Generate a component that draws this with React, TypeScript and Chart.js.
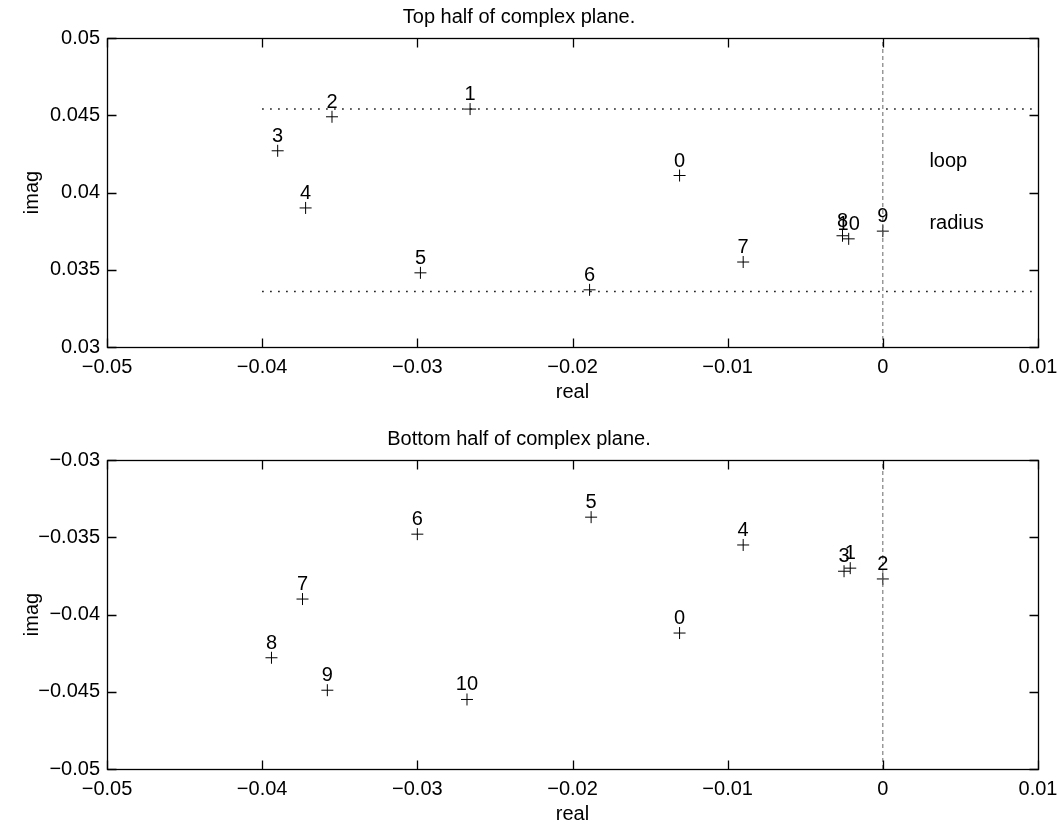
import React, { useEffect, useRef } from 'react';
import { Chart, registerables } from 'chart.js';

Chart.register(...registerables);

const FONT_FAMILY = "'Liberation Sans', Arial, Helvetica, sans-serif";

// Axis ticks
const xTickValues = [-0.05, -0.04, -0.03, -0.02, -0.01, 0, 0.01];
const xTickLabels = ['−0.05', '−0.04', '−0.03', '−0.02', '−0.01', '0', '0.01'];
const topYTickValues = [0.03, 0.035, 0.04, 0.045, 0.05];
const topYTickLabels = ['0.03', '0.035', '0.04', '0.045', '0.05'];
const bottomYTickValues = [-0.05, -0.045, -0.04, -0.035, -0.03];
const bottomYTickLabels = ['−0.05', '−0.045', '−0.04', '−0.035', '−0.03'];

// Top half of complex plane: point labels, real and imaginary parts
const topLabels = ['0', '1', '2', '3', '4', '5', '6', '7', '8', '9', '10'];
const topReal = [-0.0131, -0.0266, -0.0355, -0.039, -0.0372, -0.0298, -0.0189, -0.009, -0.0026, 0.0, -0.0022];
const topImag = [0.0411, 0.0454, 0.0449, 0.0427, 0.039, 0.0348, 0.0337, 0.0355, 0.0372, 0.0375, 0.037];

// Bottom half of complex plane
const bottomLabels = ['0', '1', '2', '3', '4', '5', '6', '7', '8', '9', '10'];
const bottomReal = [-0.0131, -0.0021, 0.0, -0.0025, -0.009, -0.0188, -0.03, -0.0374, -0.0394, -0.0358, -0.0268];
const bottomImag = [-0.0412, -0.037, -0.0377, -0.0372, -0.0355, -0.0337, -0.0348, -0.039, -0.0428, -0.0449, -0.0455];

// Loop radius reference lines (top panel)
const radiusLineX = [-0.04, 0.01];
const radiusOuterY = [0.0454, 0.0454];
const radiusInnerY = [0.0336, 0.0336];

// Imaginary axis (real = 0)
const imagAxisX = [0, 0];
const topImagAxisY = [0.03, 0.05];
const bottomImagAxisY = [-0.05, -0.03];

// Text notes (top panel)
const topNotes = ['loop', 'radius'];
const topNotesX = [0.003, 0.003];
const topNotesY = [0.042, 0.038];

type PanelSpec = {
  title: string;
  yMin: number;
  yMax: number;
  yTickValues: number[];
  yTickLabels: string[];
  real: number[];
  imag: number[];
  labels: string[];
  lines: { x: number[]; y: number[]; kind: 'dot' | 'dash' }[];
  notes: { text: string[]; x: number[]; y: number[] };
  height: number;
  xAxisHeight: number;
  xTitleBottom: number;
};

const frameAndLabelsPlugin = {
  id: 'frameAndLabels',
  afterDatasetsDraw(chart: any) {
    const ctx = chart.ctx as CanvasRenderingContext2D;
    const area = chart.chartArea;
    const xs = chart.scales.x;
    const ys = chart.scales.y;
    const L = Math.round(area.left) + 0.5;
    const R = Math.round(area.right) + 0.5;
    const T = Math.round(area.top) + 0.5;
    const B = Math.round(area.bottom) + 0.5;
    ctx.save();
    ctx.strokeStyle = '#000';
    ctx.lineWidth = 1.3;
    ctx.setLineDash([]);
    ctx.strokeRect(L, T, R - L, B - T);
    const tl = 9;
    ctx.beginPath();
    xs.ticks.forEach((t: any) => {
      const px = Math.round(xs.getPixelForValue(t.value)) + 0.5;
      ctx.moveTo(px, B);
      ctx.lineTo(px, B - tl);
      ctx.moveTo(px, T);
      ctx.lineTo(px, T + tl);
    });
    ys.ticks.forEach((t: any) => {
      const py = Math.round(ys.getPixelForValue(t.value)) + 0.5;
      ctx.moveTo(L, py);
      ctx.lineTo(L + tl, py);
      ctx.moveTo(R, py);
      ctx.lineTo(R - tl, py);
    });
    ctx.stroke();

    // point labels
    ctx.fillStyle = '#000';
    ctx.font = `20px ${FONT_FAMILY}`;
    ctx.textAlign = 'center';
    ctx.textBaseline = 'middle';
    chart.data.datasets.forEach((ds: any, i: number) => {
      if (!ds.pointLabels) return;
      const meta = chart.getDatasetMeta(i);
      meta.data.forEach((el: any, j: number) => {
        ctx.fillText(ds.pointLabels[j], el.x, el.y - 14.5);
      });
    });

    // notes
    const notes = chart.options.plugins.frameAndLabels?.notes;
    if (notes) {
      ctx.textAlign = 'left';
      notes.text.forEach((txt: string, k: number) => {
        ctx.fillText(txt, xs.getPixelForValue(notes.x[k]), ys.getPixelForValue(notes.y[k]));
      });
    }
    ctx.restore();
  },
};

function Panel({ spec }: { spec: PanelSpec }) {
  const ref = useRef<HTMLCanvasElement | null>(null);
  useEffect(() => {
    if (!ref.current) return;
    const font = { family: FONT_FAMILY, size: 20, weight: 'normal' as const };
    const datasets: any[] = spec.lines.map((ln) => ({
      data: ln.x.map((x, i) => ({ x, y: ln.y[i] })),
      showLine: true,
      pointRadius: 0,
      borderColor: ln.kind === 'dot' ? '#000' : '#666',
      borderWidth: ln.kind === 'dot' ? 1.5 : 1,
      borderDash: ln.kind === 'dot' ? [1.5, 6.5] : [4, 3],
      fill: false,
    }));
    datasets.push({
      data: spec.real.map((x, i) => ({ x, y: spec.imag[i] })),
      pointLabels: spec.labels,
      showLine: false,
      pointStyle: 'cross',
      pointRadius: 6,
      pointBorderColor: '#000',
      pointBackgroundColor: '#000',
      pointBorderWidth: 1,
    });
    const chart = new Chart(ref.current, {
      type: 'scatter',
      data: { datasets },
      plugins: [frameAndLabelsPlugin],
      options: {
        animation: false,
        responsive: false,
        events: [],
        layout: { padding: { left: 0, right: 20, top: 0, bottom: 0 } },
        plugins: {
          legend: { display: false },
          tooltip: { enabled: false },
          title: {
            display: true,
            text: spec.title,
            color: '#000',
            font,
            padding: { top: 5, bottom: 9 },
          },
          frameAndLabels: { notes: spec.notes },
        } as any,
        scales: {
          x: {
            type: 'linear',
            min: -0.05,
            max: 0.01,
            afterBuildTicks: (s: any) => {
              s.ticks = xTickValues.map((v) => ({ value: v }));
            },
            afterFit: (s: any) => {
              s.height = spec.xAxisHeight;
              s.paddingLeft = 0;
              s.paddingRight = 0;
            },
            ticks: {
              autoSkip: false,
              maxRotation: 0,
              padding: 8,
              color: '#000',
              font,
              callback: (_v: any, i: number) => xTickLabels[i],
            },
            grid: { display: false, drawTicks: false },
            border: { display: false },
            title: {
              display: true,
              text: 'real',
              color: '#000',
              font,
              padding: { top: 0, bottom: spec.xTitleBottom },
            },
          },
          y: {
            type: 'linear',
            min: spec.yMin,
            max: spec.yMax,
            afterBuildTicks: (s: any) => {
              s.ticks = spec.yTickValues.map((v) => ({ value: v }));
            },
            afterFit: (s: any) => {
              s.width = 107;
              s.paddingTop = 0;
              s.paddingBottom = 0;
            },
            ticks: {
              autoSkip: false,
              padding: 7,
              color: '#000',
              font,
              callback: (_v: any, i: number) => spec.yTickLabels[i],
            },
            grid: { display: false, drawTicks: false },
            border: { display: false },
            title: {
              display: true,
              text: 'imag',
              color: '#000',
              font,
              padding: { top: 20, bottom: 0 },
            },
          },
        },
      } as any,
    });
    return () => chart.destroy();
  }, [spec]);
  return <canvas ref={ref} width={1058} height={spec.height} style={{ display: 'block', width: 1058, height: spec.height }} />;
}

const topSpec: PanelSpec = {
  title: 'Top half of complex plane.',
  yMin: 0.03,
  yMax: 0.05,
  yTickValues: topYTickValues,
  yTickLabels: topYTickLabels,
  real: topReal,
  imag: topImag,
  labels: topLabels,
  lines: [
    { x: radiusLineX, y: radiusOuterY, kind: 'dot' },
    { x: radiusLineX, y: radiusInnerY, kind: 'dot' },
    { x: imagAxisX, y: topImagAxisY, kind: 'dash' },
  ],
  notes: { text: topNotes, x: topNotesX, y: topNotesY },
  height: 410,
  xAxisHeight: 63,
  xTitleBottom: 6,
};

const bottomSpec: PanelSpec = {
  title: 'Bottom half of complex plane.',
  yMin: -0.05,
  yMax: -0.03,
  yTickValues: bottomYTickValues,
  yTickLabels: bottomYTickLabels,
  real: bottomReal,
  imag: bottomImag,
  labels: bottomLabels,
  lines: [{ x: imagAxisX, y: bottomImagAxisY, kind: 'dash' }],
  notes: { text: [], x: [], y: [] },
  height: 404,
  xAxisHeight: 57,
  xTitleBottom: 0,
};

export default function App() {
  return (
    <div
      style={{
        position: 'absolute',
        left: 0,
        top: 0,
        width: 1058,
        height: 826,
        overflow: 'hidden',
        background: '#fff',
      }}
    >
      <div style={{ position: 'absolute', left: 0, top: 0 }}>
        <Panel spec={topSpec} />
      </div>
      <div style={{ position: 'absolute', left: 0, top: 422 }}>
        <Panel spec={bottomSpec} />
      </div>
    </div>
  );
}
